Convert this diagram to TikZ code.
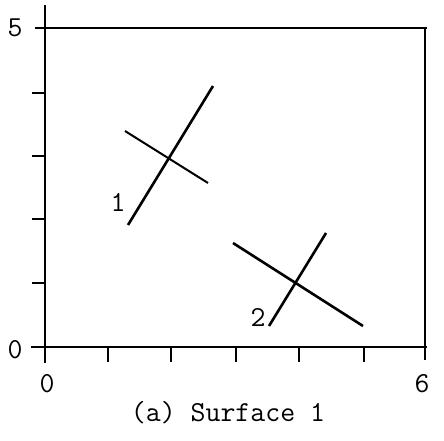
\documentclass[tikz,border=0pt]{standalone}
\begin{document}
\begin{tikzpicture}[x=1pt,y=-1pt,
  axis/.style={line width=2pt},
  frame/.style={line width=1.5pt},
  seg/.style={line width=2.6pt},
  thin seg/.style={line width=2pt},
  lbl/.style={font=\fontsize{29}{32}\selectfont\ttfamily, inner sep=0pt},
  tick/.style={line width=1.6pt}]
\useasboundingbox (0,0) rectangle (444,440);
% axes and frame
\draw[axis] (45,5) -- (45,363);
\draw[axis] (31,347) -- (427,347);
\draw[frame] (35,28) -- (427,28);
\draw[frame] (425,28) -- (425,360);
% y ticks
\foreach \yy in {93,156,219,283} \draw[tick] (32,\yy) -- (45,\yy);
% x ticks
\foreach \xx in {108,171,236,299,364} \draw[tick] (\xx,347) -- (\xx,362);
% tick labels
\node[lbl] (y5) at (15,28) {5};
\node[lbl] (y0) at (15,350) {0};
\node[lbl] (x0) at (47,384) {0};
\node[lbl] (x6) at (422,384) {6};
% cross 1
\coordinate (c1a) at (128,225); \coordinate (c1b) at (213,86);
\coordinate (c1c) at (125,131); \coordinate (c1d) at (208,183);
\draw[seg] (c1a) -- (c1b);
\draw[thin seg] (c1c) -- (c1d);
\node[lbl] (l1) at (118,202) {1};
% cross 2
\coordinate (c2a) at (269,326); \coordinate (c2b) at (326,233);
\coordinate (c2c) at (233,243); \coordinate (c2d) at (363,326);
\draw[seg] (c2a) -- (c2b);
\draw[seg] (c2c) -- (c2d);
\node[lbl] (l2) at (258,317) {2};
% caption
\node[lbl] (cap) at (228,413) {(a) Surface 1};
\end{tikzpicture}
\end{document}
